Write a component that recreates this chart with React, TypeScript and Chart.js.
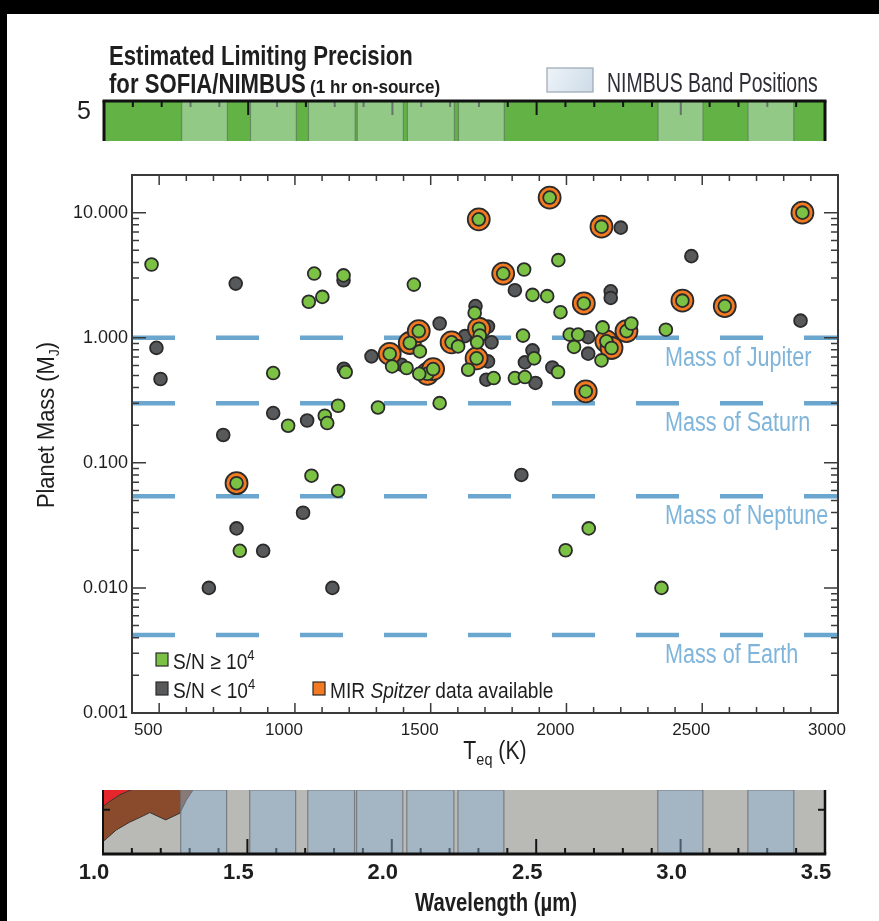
import React, { useEffect, useRef } from 'react';
import { Chart, registerables } from 'chart.js';

Chart.register(...registerables);

// ================= Main scatter: equilibrium temperature vs planet mass =================
const highSnTeq = [472, 1071, 1051, 1101, 1179, 1438, 920, 1187, 1358, 1411, 1460, 1458, 1601, 1662, 1681, 1671, 1638, 1732, 975, 1110, 1119, 1159, 1306, 1533, 1970, 1844, 1875, 1929, 1978, 2366, 2239, 2133, 2012, 2043, 2028, 2129, 1840, 1881, 1810, 1847, 1969, 1061, 1159, 797, 2082, 1997, 2350];
const highSnMass = [3.85, 3.26, 1.94, 2.12, 3.15, 2.66, 0.522, 0.532, 0.59, 0.573, 0.778, 0.515, 0.853, 1.58, 1.04, 0.919, 0.555, 0.476, 0.198, 0.238, 0.208, 0.286, 0.277, 0.3, 4.17, 3.51, 2.2, 2.15, 1.6, 1.16, 1.3, 1.21, 1.06, 1.06, 0.844, 0.659, 1.04, 0.684, 0.476, 0.485, 0.532, 0.0789, 0.0596, 0.0198, 0.0299, 0.02, 0.01];

const lowSnTeq = [782, 1179, 490, 505, 1180, 1282, 1392, 1533, 1626, 1665, 1711, 1724, 1711, 1705, 920, 1045, 736, 2200, 2460, 1810, 2163, 2163, 2862, 2080, 2080, 1875, 1847, 1886, 1948, 1030, 785, 883, 683, 1138, 1834];
const lowSnMass = [2.71, 2.88, 0.83, 0.468, 0.565, 0.71, 0.609, 1.3, 1.03, 1.79, 1.23, 0.919, 0.647, 0.462, 0.25, 0.218, 0.167, 7.59, 4.49, 2.4, 2.35, 2.08, 1.37, 1.01, 0.746, 0.792, 0.635, 0.435, 0.579, 0.0399, 0.0299, 0.0198, 0.01, 0.01, 0.08];

const spitzerTeq = [1677, 1767, 1349, 1423, 1456, 1488, 1509, 1577, 1678, 1669, 1938, 2129, 2869, 2064, 2427, 2583, 2221, 2147, 2166, 2071, 785];
const spitzerMass = [8.84, 3.26, 0.742, 0.908, 1.13, 0.515, 0.562, 0.919, 1.18, 0.684, 13.2, 7.73, 10.0, 1.88, 1.98, 1.79, 1.13, 0.936, 0.828, 0.372, 0.0687];

const refNames = ['Mass of Jupiter', 'Mass of Saturn', 'Mass of Neptune', 'Mass of Earth'];
const refMasses = [1.0, 0.3, 0.054, 0.0042];
const refLabelTeq = 2363;

const teqRange = [400, 3000];
const massRange = [0.001, 20];
const massDecades = [0.001, 0.01, 0.1, 1, 10];

// ================= NIMBUS strips (wavelength, µm) =================
const bandStart = [1.269, 1.508, 1.709, 1.878, 2.052, 2.229, 2.921, 3.233];
const bandEnd = [1.428, 1.667, 1.871, 2.038, 2.215, 2.388, 3.077, 3.392];
const waveRange = [1.0, 3.5];
const waveTickStep = 0.1;

const precisionRange = [3.55, 5.55];
const precisionTicks = [5];
const precisionTickLen = [0.3, 0.7]; // minor, major (axis units)

const lowerRange = [0, 14.5];
const lowerTicks = [10];
const lowerTickLen = [1.36, 3.4]; // minor, major (axis units)
const brownEdgeWave = [1.0, 1.046, 1.092, 1.139, 1.162, 1.217, 1.266, 1.289, 1.312, 1.34];
const brownEdgeLevel = [2.8, 5.45, 7.2, 8.64, 9.39, 7.73, 9.25, 12.27, 14.55, 16.5];
const redEdgeWave = [1.0, 1.023, 1.058, 1.098, 1.127];
const redEdgeLevel = [10.75, 11.9, 13.4, 14.55, 15.5];

// ================= styles =================
const SANS = "'Liberation Sans', Arial, sans-serif";
const GREEN = '#7bc143';
const GREY = '#58595b';
const ORANGE = '#f37a20';
const EDGE = '#2b2b2b';
const REF_LINE = '#6ba6cf';
const REF_TEXT = '#7fb5da';
const FRAME = '#3a3a3a';
const INK = '#1e1e1e';

type Run = { text: string; font: string; dy?: number };

function drawRuns(
  ctx: CanvasRenderingContext2D,
  runs: Run[],
  x: number,
  y: number,
  o: { sx?: number; align?: 'left' | 'center' | 'right'; color: string; rotate?: number }
) {
  const sx = o.sx ?? 1;
  ctx.save();
  ctx.translate(x, y);
  if (o.rotate) ctx.rotate(o.rotate);
  ctx.scale(sx, 1);
  ctx.fillStyle = o.color;
  ctx.textBaseline = 'alphabetic';
  ctx.textAlign = 'left';
  let total = 0;
  const widths = runs.map((r) => {
    ctx.font = r.font;
    const w = ctx.measureText(r.text).width;
    total += w;
    return w;
  });
  let cx = o.align === 'center' ? -total / 2 : o.align === 'right' ? -total : 0;
  runs.forEach((r, i) => {
    ctx.font = r.font;
    ctx.fillText(r.text, cx, r.dy ?? 0);
    cx += widths[i];
  });
  ctx.restore();
}

const isDecade = (v: number) => Math.abs(Math.log10(v) - Math.round(Math.log10(v))) < 1e-6;
const isHalf = (v: number) => Math.abs(v * 2 - Math.round(v * 2)) < 1e-6;
const pts = (t: number[], m: number[]) => t.map((x, i) => ({ x, y: m[i] }));

function withOrder(ds: any[]) {
  ds.forEach((d, i) => (d.order = ds.length - i));
  return ds;
}

// fix an axis box size and drop the label overflow padding
const fixWidth = (w: number) => (s: any) => {
  s.width = w;
  s.paddingTop = 0;
  s.paddingBottom = 0;
};
const fixHeight = (h: number) => (s: any) => {
  s.height = h;
  s.paddingLeft = 0;
  s.paddingRight = 0;
};

// ---------------- main chart ----------------
function mainConfig(): any {
  const scatter = (data: any[], color: string, r: number) => ({
    type: 'scatter',
    data,
    backgroundColor: color,
    borderColor: EDGE,
    borderWidth: 1.8,
    pointRadius: r,
    pointHoverRadius: r,
  });
  const datasets = withOrder([
    ...refMasses.map((m) => ({
      type: 'line',
      data: [
        { x: teqRange[0], y: m },
        { x: teqRange[1], y: m },
      ],
      borderColor: REF_LINE,
      borderWidth: 4.5,
      borderDash: [43, 41],
      pointRadius: 0,
      fill: false,
    })),
    scatter(pts(lowSnTeq, lowSnMass), GREY, 6.4),
    scatter(pts(spitzerTeq, spitzerMass), ORANGE, 11),
    scatter(pts(spitzerTeq, spitzerMass), GREEN, 6.4),
    scatter(pts(highSnTeq, highSnMass), GREEN, 6.4),
  ]);

  const decor = {
    id: 'mainDecor',
    afterDatasetsDraw(chart: any) {
      const { ctx, chartArea: a, scales } = chart;
      const xs = scales.x;
      const ys = scales.y;
      ctx.save();
      ctx.strokeStyle = FRAME;
      ctx.lineWidth = 1.5;
      ctx.beginPath();
      for (const t of xs.ticks) {
        const p = xs.getPixelForValue(t.value);
        const len = t.value % 500 === 0 ? 10 : 6;
        ctx.moveTo(p, a.bottom);
        ctx.lineTo(p, a.bottom - len);
        ctx.moveTo(p, a.top);
        ctx.lineTo(p, a.top + len);
      }
      for (const t of ys.ticks) {
        const p = ys.getPixelForValue(t.value);
        const len = isDecade(t.value) ? 14 : 7;
        ctx.moveTo(a.left, p);
        ctx.lineTo(a.left + len, p);
        ctx.moveTo(a.right, p);
        ctx.lineTo(a.right - len, p);
      }
      ctx.stroke();
      ctx.lineWidth = 2;
      ctx.strokeRect(a.left, a.top, a.right - a.left, a.bottom - a.top);
      ctx.restore();

      // reference-mass labels
      refNames.forEach((name, i) => {
        const y = ys.getPixelForValue(refMasses[i]) + 28;
        const x = xs.getPixelForValue(refLabelTeq);
        drawRuns(ctx, [{ text: name, font: `27px ${SANS}` }], x, y, { sx: 0.8, color: REF_TEXT });
      });

      // legend
      const f = `22px ${SANS}`;
      const sup = `15px ${SANS}`;
      const sq = (x: number, y: number, c: string) => {
        ctx.save();
        ctx.fillStyle = c;
        ctx.strokeStyle = EDGE;
        ctx.lineWidth = 1.2;
        ctx.fillRect(x, y, 12, 13);
        ctx.strokeRect(x, y, 12, 13);
        ctx.restore();
      };
      const row1 = a.bottom - 44;
      const row2 = a.bottom - 15;
      sq(a.left + 24, row1 - 16, GREEN);
      drawRuns(ctx, [{ text: 'S/N ≥ 10', font: f }, { text: '4', font: sup, dy: -9 }], a.left + 41, row1, { sx: 0.87, color: INK });
      sq(a.left + 24, row2 - 16, GREY);
      drawRuns(ctx, [{ text: 'S/N < 10', font: f }, { text: '4', font: sup, dy: -9 }], a.left + 41, row2, { sx: 0.87, color: INK });
      sq(a.left + 181, row2 - 16, ORANGE);
      drawRuns(
        ctx,
        [
          { text: 'MIR ', font: f },
          { text: 'Spitzer', font: `italic ${f}` },
          { text: ' data available', font: f },
        ],
        a.left + 198,
        row2,
        { sx: 0.87, color: INK }
      );

      // axis titles
      drawRuns(
        ctx,
        [
          { text: 'T', font: `25px ${SANS}` },
          { text: 'eq', font: `17px ${SANS}`, dy: 6 },
          { text: ' (K)', font: `25px ${SANS}` },
        ],
        495,
        a.bottom + 46,
        { sx: 0.85, align: 'center', color: INK }
      );
      drawRuns(
        ctx,
        [
          { text: 'Planet Mass (M', font: `23px ${SANS}` },
          { text: 'J', font: `15px ${SANS}`, dy: 5 },
          { text: ')', font: `23px ${SANS}` },
        ],
        a.left - 78,
        (a.top + a.bottom) / 2 - 19,
        { sx: 0.95, align: 'center', color: INK, rotate: -Math.PI / 2 }
      );
    },
  };

  return {
    type: 'scatter',
    data: { datasets },
    plugins: [decor],
    options: {
      responsive: false,
      animation: false,
      events: [],
      layout: { padding: { top: 25, right: 41, left: 0, bottom: 0 } },
      plugins: { legend: { display: false }, tooltip: { enabled: false } },
      scales: {
        x: {
          type: 'linear',
          min: teqRange[0],
          max: teqRange[1],
          afterFit: fixHeight(67),
          grid: { display: false, drawTicks: false },
          border: { display: false },
          ticks: {
            stepSize: 100,
            autoSkip: false,
            maxRotation: 0,
            padding: 7,
            labelOffset: -11,
            color: INK,
            font: { family: SANS, size: 17 },
            callback: (v: number) => (v % 500 === 0 ? String(v) : ''),
          },
        },
        y: {
          type: 'logarithmic',
          min: massRange[0],
          max: massRange[1],
          afterFit: fixWidth(132),
          afterBuildTicks: (s: any) => {
            const ticks: any[] = [];
            massDecades.forEach((d) => {
              for (let k = 1; k <= 9; k++) {
                const v = d * k;
                if (v <= massRange[1] + 1e-9) ticks.push({ value: v, major: k === 1 });
              }
            });
            s.ticks = ticks;
          },
          grid: { display: false, drawTicks: false },
          border: { display: false },
          ticks: {
            autoSkip: false,
            padding: 4,
            color: INK,
            font: { family: SANS, size: 18 },
            callback: (v: number) => (isDecade(v) ? Number(v).toFixed(3) : ''),
          },
        },
      },
    },
  };
}

// ---------------- strip helpers ----------------
function bandDatasets(yMin: number, yMax: number, fill: string, edge: string) {
  return bandStart.map((s, i) => ({
    type: 'line',
    data: [
      { x: s, y: yMin },
      { x: s, y: yMax },
      { x: bandEnd[i], y: yMax },
      { x: bandEnd[i], y: yMin },
    ],
    fill: 'start',
    backgroundColor: fill,
    borderColor: edge,
    borderWidth: 1.2,
    pointRadius: 0,
    tension: 0,
  }));
}

function waveTickValues() {
  const n = Math.round((waveRange[1] - waveRange[0]) / waveTickStep);
  const out: number[] = [];
  for (let i = 0; i <= n; i++) out.push(Number((waveRange[0] + i * waveTickStep).toFixed(3)));
  return out;
}

// inward wavelength tick marks as short vertical line segments (gaps between them)
function waveTickDataset(base: number, dir: number, len: number[]) {
  const data: any[] = [];
  for (const v of waveTickValues()) {
    data.push({ x: v, y: base }, { x: v, y: base + dir * (isHalf(v) ? len[1] : len[0]) }, { x: v, y: null });
  }
  return {
    type: 'line',
    data,
    borderColor: '#141414',
    borderWidth: 2,
    pointRadius: 0,
    fill: false,
    tension: 0,
    spanGaps: false,
  };
}

function drawSideTicks(chart: any, len: number) {
  const ctx = chart.ctx as CanvasRenderingContext2D;
  const a = chart.chartArea;
  const ys = chart.scales.y;
  ctx.save();
  ctx.strokeStyle = '#141414';
  ctx.lineWidth = 2;
  ctx.beginPath();
  for (const t of ys.ticks) {
    const p = ys.getPixelForValue(t.value);
    ctx.moveTo(a.left, p);
    ctx.lineTo(a.left + len, p);
    ctx.moveTo(a.right, p);
    ctx.lineTo(a.right - len, p);
  }
  ctx.stroke();
  ctx.restore();
}

function drawEdges(ctx: CanvasRenderingContext2D, a: any, w: { top?: number; bottom?: number; left?: number; right?: number }) {
  ctx.save();
  ctx.strokeStyle = '#111';
  const line = (x1: number, y1: number, x2: number, y2: number, lw: number) => {
    ctx.lineWidth = lw;
    ctx.beginPath();
    ctx.moveTo(x1, y1);
    ctx.lineTo(x2, y2);
    ctx.stroke();
  };
  if (w.top) line(a.left - (w.left ?? 0) / 2, a.top, a.right + (w.right ?? 0) / 2, a.top, w.top);
  if (w.bottom) line(a.left - (w.left ?? 0) / 2, a.bottom, a.right + (w.right ?? 0) / 2, a.bottom, w.bottom);
  if (w.left) line(a.left, a.top, a.left, a.bottom, w.left);
  if (w.right) line(a.right, a.top, a.right, a.bottom, w.right);
  ctx.restore();
}

// ---------------- top strip ----------------
function topConfig(): any {
  const datasets = withOrder([
    waveTickDataset(precisionRange[1], -1, precisionTickLen),
    ...bandDatasets(precisionRange[0], precisionRange[1], 'rgba(205,228,215,0.45)', 'rgba(95,125,95,0.75)'),
  ]);
  const decor = {
    id: 'topDecor',
    beforeDatasetsDraw(chart: any) {
      const { ctx, chartArea: a } = chart;
      ctx.save();
      ctx.fillStyle = '#63b246';
      ctx.fillRect(a.left, a.top, a.right - a.left, a.bottom - a.top);
      ctx.restore();
    },
    afterDatasetsDraw(chart: any) {
      drawEdges(chart.ctx, chart.chartArea, { top: 3, left: 3, right: 3 });
    },
    afterDraw(chart: any) {
      const ctx = chart.ctx as CanvasRenderingContext2D;
      drawRuns(ctx, [{ text: 'Estimated Limiting Precision', font: `bold 27px ${SANS}` }], 109, 65, { sx: 0.82, color: INK });
      drawRuns(ctx, [{ text: 'for SOFIA/NIMBUS', font: `bold 27px ${SANS}` }], 109, 93, { sx: 0.82, color: INK });
      drawRuns(ctx, [{ text: '(1 hr on-source)', font: `bold 19px ${SANS}` }], 310, 93, { sx: 0.9, color: INK });
      // legend box
      ctx.save();
      const g = ctx.createLinearGradient(547, 68, 593, 92);
      g.addColorStop(0, '#eef4f9');
      g.addColorStop(1, '#cddbe7');
      ctx.fillStyle = g;
      ctx.fillRect(547, 68, 46, 24);
      ctx.strokeStyle = '#9aa6b1';
      ctx.lineWidth = 1.2;
      ctx.strokeRect(547, 68, 46, 24);
      ctx.restore();
      drawRuns(ctx, [{ text: 'NIMBUS Band Positions', font: `27px ${SANS}` }], 607, 92, { sx: 0.72, color: '#2e2e36' });
    },
  };
  return {
    type: 'line',
    data: { datasets },
    plugins: [decor],
    options: {
      responsive: false,
      animation: false,
      events: [],
      layout: { padding: { top: 101, right: 54, left: 0, bottom: 4 } },
      plugins: { legend: { display: false }, tooltip: { enabled: false } },
      scales: {
        x: {
          type: 'linear',
          min: waveRange[0],
          max: waveRange[1],
          grid: { display: false, drawTicks: false },
          border: { display: false },
          afterFit: fixHeight(0),
          ticks: { display: false },
        },
        y: {
          type: 'linear',
          min: precisionRange[0],
          max: precisionRange[1],
          afterFit: fixWidth(104),
          afterBuildTicks: (s: any) => {
            s.ticks = precisionTicks.map((value) => ({ value }));
          },
          grid: { display: false, drawTicks: false },
          border: { display: false },
          ticks: { padding: 13, color: INK, font: { family: SANS, size: 25 }, callback: (v: number) => String(v) },
        },
      },
    },
  };
}

// ---------------- bottom strip ----------------
function bottomConfig(): any {
  const datasets = withOrder([
    {
      type: 'line',
      data: pts(brownEdgeWave, brownEdgeLevel),
      fill: 'end',
      backgroundColor: '#8a4b2c',
      borderColor: '#3b3330',
      borderWidth: 1,
      pointRadius: 0,
      tension: 0,
    },
    {
      type: 'line',
      data: pts(redEdgeWave, redEdgeLevel),
      fill: 'end',
      backgroundColor: '#e5262b',
      borderColor: '#3b3330',
      borderWidth: 1,
      pointRadius: 0,
      tension: 0,
    },
    waveTickDataset(lowerRange[0], 1, lowerTickLen),
    ...bandDatasets(lowerRange[0], lowerRange[1], 'rgba(140,178,212,0.45)', 'rgba(110,115,120,0.85)'),
  ]);
  const decor = {
    id: 'bottomDecor',
    beforeDatasetsDraw(chart: any) {
      const { ctx, chartArea: a } = chart;
      ctx.save();
      ctx.fillStyle = '#b9b9b5';
      ctx.fillRect(a.left, a.top, a.right - a.left, a.bottom - a.top);
      ctx.restore();
    },
    afterDatasetsDraw(chart: any) {
      drawSideTicks(chart, 7);
      drawEdges(chart.ctx, chart.chartArea, { bottom: 3, left: 2, right: 2.5 });
    },
    afterDraw(chart: any) {
      drawRuns(chart.ctx, [{ text: 'Wavelength (µm)', font: `bold 26px ${SANS}` }], 496, 131, { sx: 0.78, align: 'center', color: INK });
    },
  };
  return {
    type: 'line',
    data: { datasets },
    plugins: [decor],
    options: {
      responsive: false,
      animation: false,
      events: [],
      layout: { padding: { top: 10, right: 54, left: 0, bottom: 0 } },
      plugins: { legend: { display: false }, tooltip: { enabled: false } },
      scales: {
        x: {
          type: 'linear',
          min: waveRange[0],
          max: waveRange[1],
          grid: { display: false, drawTicks: false },
          border: { display: false },
          afterFit: fixHeight(67),
          ticks: {
            stepSize: waveTickStep,
            autoSkip: false,
            maxRotation: 0,
            padding: 6,
            labelOffset: -9,
            color: INK,
            font: { family: SANS, size: 22, weight: 'bold' },
            callback: (v: number) => (isHalf(v) ? Number(v).toFixed(1) : ''),
          },
        },
        y: {
          type: 'linear',
          min: lowerRange[0],
          max: lowerRange[1],
          afterFit: fixWidth(103),
          afterBuildTicks: (s: any) => {
            s.ticks = lowerTicks.map((value) => ({ value }));
          },
          grid: { display: false, drawTicks: false },
          border: { display: false },
          ticks: { display: false },
        },
      },
    },
  };
}

export default function App() {
  const topRef = useRef<HTMLCanvasElement>(null);
  const mainRef = useRef<HTMLCanvasElement>(null);
  const botRef = useRef<HTMLCanvasElement>(null);

  useEffect(() => {
    document.body.style.margin = '0';
    const charts = [
      new Chart(topRef.current as HTMLCanvasElement, topConfig()),
      new Chart(mainRef.current as HTMLCanvasElement, mainConfig()),
      new Chart(botRef.current as HTMLCanvasElement, bottomConfig()),
    ];
    return () => charts.forEach((c) => c.destroy());
  }, []);

  return (
    <div style={{ position: 'absolute', left: 0, top: 0, width: 879, height: 921, background: '#fff', overflow: 'hidden' }}>
      <canvas ref={topRef} width={879} height={145} style={{ position: 'absolute', left: 0, top: 0 }} />
      <canvas ref={mainRef} width={879} height={630} style={{ position: 'absolute', left: 0, top: 150 }} />
      <canvas ref={botRef} width={879} height={141} style={{ position: 'absolute', left: 0, top: 780 }} />
      <div style={{ position: 'absolute', left: 0, top: 0, width: 879, height: 14, background: '#000' }} />
      <div style={{ position: 'absolute', left: 0, top: 0, width: 7, height: 921, background: '#000' }} />
    </div>
  );
}
